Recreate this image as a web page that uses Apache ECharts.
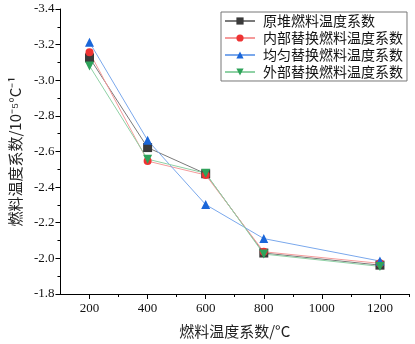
<!DOCTYPE html>
<html>
<head>
<meta charset="utf-8">
<script src="https://cdn.jsdelivr.net/npm/echarts@6/dist/echarts.min.js"></script>
<style>
html, body { margin: 0; padding: 0; background: #fff; }
#chart { width: 415px; height: 344px; }
</style>
</head>
<body>
<div id="chart"></div>
<script>
// 燃料温度 (x)
var temps = [200, 400, 600, 800, 1200];
var xTicks = [200, 400, 600, 800, 1000, 1200];
var xMinorTicks = [300, 500, 700, 900, 1100, 1300];
var seriesNames = ['原堆燃料温度系数', '内部替换燃料温度系数', '均匀替换燃料温度系数', '外部替换燃料温度系数'];
// 各方案温度系数 (10^-5/°C)
var yuanDui = [-3.126, -2.622, -2.475, -2.030, -1.962];
var neiBu = [-3.157, -2.546, -2.468, -2.037, -1.972];
var junYun = [-3.213, -2.663, -2.302, -2.111, -1.985];
var waiBu = [-3.080, -2.557, -2.478, -2.024, -1.955];

var serif = '"Liberation Serif", "Noto Sans CJK SC", serif';
var cjk = '"Noto Sans CJK SC", sans-serif';

function pairs(vals) {
	var arr = [];
	for (var i = 0; i < temps.length; i++) {
		arr.push([temps[i], vals[i]]);
	}
	return arr;
}

//单条折线
function mkLine(name, vals, symbol, color, lineColor, rotate) {
	return {
		name: name,
		type: 'line',
		data: pairs(vals),
		symbol: symbol,
		symbolSize: symbol === 'circle' ? 8 : 9,
		symbolRotate: rotate || 0,
		itemStyle: { color: color },
		lineStyle: { color: lineColor, width: 1 },
		z: 3
	};
}

var myChart = echarts.init(document.getElementById('chart'));
var option = {
	animation: false,
	grid: { left: 52, right: 6, top: 9, bottom: 47 },
	legend: {
		left: 221,
		top: 12,
		orient: 'vertical',
		data: seriesNames,
		itemWidth: 30,
		itemHeight: 9,
		itemGap: 3,
		padding: [2, 4, 2, 3],
		borderColor: '#777',
		borderWidth: 1,
		borderRadius: 0,
		textStyle: { fontFamily: cjk, fontSize: 14, color: '#111', padding: [0, 0, 0, 3] }
	},
	xAxis: [{
		type: 'value',
		min: 100,
		max: 1300,
		splitLine: { show: false },
		axisLine: { lineStyle: { color: '#000', width: 1 } },
		axisTick: { customValues: xTicks, length: 5, lineStyle: { color: '#000' } },
		axisLabel: {
			customValues: xTicks, fontFamily: serif, fontSize: 13, color: '#111', margin: 8,
			formatter: function(v) { return String(v); }
		},
		name: '燃料温度系数/°C',
		nameLocation: 'middle',
		nameGap: 30,
		nameTextStyle: { fontFamily: cjk, fontSize: 15, color: '#222' }
	}, {
		type: 'value',
		position: 'bottom',
		min: 100,
		max: 1300,
		splitLine: { show: false },
		axisLine: { show: false },
		axisTick: { customValues: xMinorTicks, length: 3, lineStyle: { color: '#000' } },
		axisLabel: { show: false }
	}],
	yAxis: {
		type: 'value',
		inverse: true,
		min: -3.4,
		max: -1.8,
		interval: 0.2,
		splitLine: { show: false },
		axisLine: { show: true, lineStyle: { color: '#000', width: 1 } },
		axisTick: { show: true, length: 5, lineStyle: { color: '#000' } },
		minorTick: { show: true, splitNumber: 2, length: 3, lineStyle: { color: '#000' } },
		axisLabel: {
			fontFamily: serif, fontSize: 13, color: '#111', margin: 6,
			formatter: function(v) { return v.toFixed(1); }
		},
		name: '燃料温度系数/10⁻⁵°C⁻¹',
		nameLocation: 'middle',
		nameRotate: 90,
		nameGap: 36,
		nameTextStyle: { fontFamily: cjk, fontSize: 15, color: '#222' }
	},
	series: [
		mkLine(seriesNames[0], yuanDui, 'rect', '#3a3a3a', '#7a7a7a'),
		mkLine(seriesNames[1], neiBu, 'circle', '#ee3333', '#f59a9a'),
		mkLine(seriesNames[2], junYun, 'triangle', '#1a66d9', '#7aa8ec'),
		mkLine(seriesNames[3], waiBu, 'triangle', '#2ea35a', '#8fd1a5', 180)
	]
};
myChart.setOption(option);
</script>
</body>
</html>
